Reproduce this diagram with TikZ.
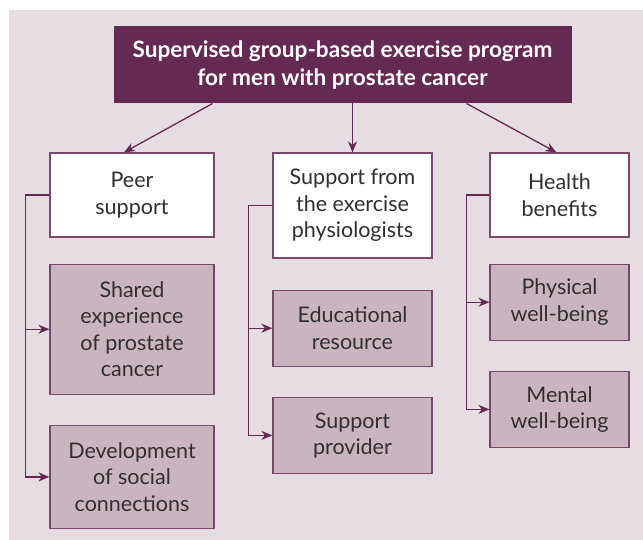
\documentclass[tikz,border=0pt]{standalone}
\usepackage{fontspec}
\setmainfont{Lato}
\usetikzlibrary{arrows.meta, positioning}
\definecolor{bgpink}{RGB}{230,221,226}
\definecolor{plum}{RGB}{101,42,81}
\definecolor{plumline}{RGB}{122,72,108}
\definecolor{mauvebg}{RGB}{201,181,191}
\definecolor{textgray}{RGB}{48,48,48}
\tikzset{
  titlebox/.style={
    draw=plum, fill=plum, line width=1pt,
    minimum width=457pt, minimum height=76pt, align=center,
    font=\fontsize{22.6}{28}\selectfont\bfseries\color{white}
  },
  headbox/.style={
    draw=plumline, fill=white, line width=1.2pt,
    minimum height=84pt, align=center,
    font=\fontsize{21.5}{26.5}\selectfont\color{textgray}
  },
  itembox/.style={
    draw=plumline, fill=mauvebg, line width=1.2pt,
    minimum height=76pt, align=center,
    font=\fontsize{21.5}{26.5}\selectfont\color{textgray}
  },
  linkarrow/.style={
    -{Stealth[length=11pt,width=9pt,inset=3.5pt]},
    draw=plum, line width=1.3pt
  },
}

\begin{document}
\begin{tikzpicture}[x=1pt, y=-1pt]
    \useasboundingbox (0,0) rectangle (643,540);
    \fill[bgpink] (9,10) rectangle (643,540);

    \node[titlebox] (title) at (342.5,65)
      {Supervised group-based exercise program\\for men with prostate cancer};

    %% Peer support
    \node[headbox, minimum width=164pt] (peer) at (132,195) {Peer\\support};
    \node[itembox, minimum width=164pt, minimum height=130pt,
      below=26pt of peer] (shared)
      {Shared\\experience\\of prostate\\cancer};
    \node[itembox, minimum width=164pt, minimum height=103pt,
      below=30pt of shared] (social)
      {Development\\of social\\connections};

    \draw[linkarrow] (peer.west) -- ++(-24pt,0) |- (shared.west);
    \draw[linkarrow] (peer.west) -- ++(-24pt,0) |- (social.west);

    %% Support from the exercise physiologists
    \node[headbox, minimum width=159pt, minimum height=105pt] (physio)
      at (352.5,205.5) {Support from\\the exercise\\physiologists};
    \node[itembox, minimum width=159pt, below=31pt of physio] (edu)
      {Educational\\resource};
    \node[itembox, minimum width=159pt, below=30pt of edu] (provider)
      {Support\\provider};

    \draw[linkarrow] (physio.west) -- ++(-24pt,0) |- (edu.west);
    \draw[linkarrow] (physio.west) -- ++(-24pt,0) |- (provider.west);

    %% Health benefits
    \node[headbox, minimum width=139pt] (health) at (559.5,195)
      {Health\\benefits};
    \node[itembox, minimum width=139pt, below=26pt of health] (physical)
      {Physical\\well-being};
    \node[itembox, minimum width=139pt, below=30pt of physical] (mental)
      {Mental\\well-being};

    \draw[linkarrow] (health.west) -- ++(-23pt,0) |- (physical.west);
    \draw[linkarrow] (health.west) -- ++(-23pt,0) |- (mental.west);

    %% Program to the three themes
    \draw[linkarrow] ([xshift=-130pt]title.south) -- ([xshift=-8pt]peer.north);
    \draw[linkarrow] (title.south -| physio.north) -- (physio.north);
    \draw[linkarrow] ([xshift=124pt]title.south) -- ([xshift=-3pt]health.north);
  \end{tikzpicture}
\end{document}
